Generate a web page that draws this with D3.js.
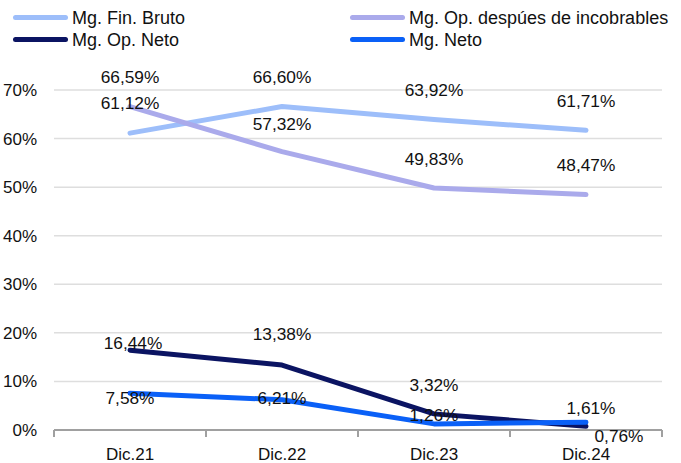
<!DOCTYPE html>
<html>
<head>
<meta charset="utf-8">
<script src="https://cdn.jsdelivr.net/npm/d3@7"></script>
<style>
  body { margin: 0; background: #fff; }
  svg { display: block; }
</style>
</head>
<body>
<svg id="chart" width="681" height="463"></svg>
<script>
const categories = ['Dic.21', 'Dic.22', 'Dic.23', 'Dic.24'];
const seriesNames = ['Mg. Fin. Bruto', 'Mg. Op. despúes de incobrables', 'Mg. Op. Neto', 'Mg. Neto'];
const finBruto = [61.12, 66.60, 63.92, 61.71];
const opDespues = [66.59, 57.32, 49.83, 48.47];
const opNeto = [16.44, 13.38, 3.32, 0.76];
const neto = [7.58, 6.21, 1.26, 1.61];
const yTicks = [0, 10, 20, 30, 40, 50, 60, 70];

// label nudges (px) so they sit like in the original
const labelDx = [[0, 0, 0, 0], [0, 0, 0, 0], [3, 0, 0, 33], [0, 0, 0, 5]];
const labelDy = [[-30, -30, -30, -29], [-30, -28, -29, -30], [-7, -31, -29, 10], [5, -2, -9, -14]];

const colors = ['#9dbefa', '#aaaaeb', '#0b1462', '#0a60f7'];
const seriesData = [finBruto, opDespues, opNeto, neto];

const svg = d3.select('#chart');
const plotLeft = 54, plotRight = 662, plotTop = 90, plotBottom = 430;
const labelFont = '"Liberation Sans", Arial, sans-serif';
const legendFont = '"Liberation Sans", Arial, sans-serif';

const x = d3.scaleBand().domain(categories).range([plotLeft, plotRight]);
const y = d3.scaleLinear().domain([0, 70]).range([plotBottom, plotTop]);
const fmt = v => d3.format('.2f')(v).replace('.', ',') + '%';

// gridlines
svg.append('g')
  .selectAll('line')
  .data(yTicks.filter(d => d > 0))
  .enter()
  .append('line')
  .attr('x1', plotLeft).attr('x2', plotRight)
  .attr('y1', d => y(d)).attr('y2', d => y(d))
  .style('stroke', '#dedede')
  .style('stroke-width', 1.5);

// y labels
svg.append('g')
  .selectAll('text')
  .data(yTicks)
  .enter()
  .append('text')
  .attr('x', 37)
  .attr('y', d => y(d))
  .attr('dy', '0.35em')
  .attr('text-anchor', 'end')
  .style('font-family', labelFont)
  .style('font-size', '17px')
  .style('fill', '#111')
  .text(d => d + '%');

// x axis
const xAxis = svg.append('g')
  .attr('transform', `translate(0,${plotBottom})`)
  .call(d3.axisBottom(x).tickSize(0).tickPadding(18));
xAxis.select('.domain').remove();
xAxis.selectAll('text')
  .style('font-family', labelFont)
  .style('font-size', '17px')
  .style('fill', '#111');
svg.append('line')
  .attr('x1', plotLeft).attr('x2', plotRight)
  .attr('y1', plotBottom).attr('y2', plotBottom)
  .style('stroke', '#a0a0a0').style('stroke-width', 2);
const bounds = categories.map(c => x(c)).concat([plotRight]);
svg.append('g')
  .selectAll('line')
  .data(bounds)
  .enter()
  .append('line')
  .attr('x1', d => d).attr('x2', d => d)
  .attr('y1', plotBottom).attr('y2', plotBottom + 7)
  .style('stroke', '#a0a0a0').style('stroke-width', 2);

// lines
const line = d3.line()
  .x((d, i) => x(categories[i]) + x.bandwidth() / 2)
  .y(d => y(d));

svg.append('g')
  .selectAll('path')
  .data(seriesData)
  .enter()
  .append('path')
  .attr('d', d => line(d))
  .style('fill', 'none')
  .style('stroke', (d, i) => colors[i])
  .style('stroke-width', 5)
  .style('stroke-linecap', 'round')
  .style('stroke-linejoin', 'round');

// data labels
seriesData.forEach((vals, s) => {
  svg.append('g')
    .selectAll('text')
    .data(vals)
    .enter()
    .append('text')
    .attr('x', (d, i) => x(categories[i]) + x.bandwidth() / 2 + labelDx[s][i])
    .attr('y', (d, i) => y(d) + labelDy[s][i])
    .attr('dy', '0.35em')
    .attr('text-anchor', 'middle')
    .style('font-family', labelFont)
    .style('font-size', '17.3px')
    .style('fill', '#111')
    .text(d => fmt(d));
});

// legend
const legendPos = [[13, 17.5], [350, 17.5], [13, 39.5], [350, 39.5]];
const legend = svg.append('g')
  .selectAll('g')
  .data(seriesNames)
  .enter()
  .append('g')
  .attr('transform', (d, i) => `translate(${legendPos[i][0]},${legendPos[i][1]})`);
legend.append('line')
  .attr('x1', 2.5).attr('x2', 52.5)
  .style('stroke', (d, i) => colors[i])
  .style('stroke-width', 5)
  .style('stroke-linecap', 'round');
legend.append('text')
  .attr('x', 59)
  .attr('dy', '0.36em')
  .style('font-family', legendFont)
  .style('font-size', '18px')
  .style('fill', '#111')
  .text(d => d);
</script>
</body>
</html>
